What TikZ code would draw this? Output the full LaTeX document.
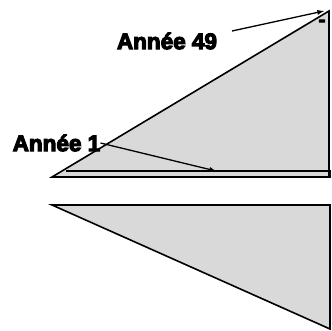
\documentclass[tikz,border=0pt]{standalone}
\usepackage{fontspec}
\newfontfamily\heavyfont[FakeBold=5]{Liberation Sans Bold}
\begin{document}
\begin{tikzpicture}[x=1pt, y=-1pt,
    wedge/.style={draw, line width=1.6pt, fill=gray!30, line join=miter},
    strip/.style={draw, line width=1.4pt},
    yearlabel/.style={font=\fontsize{22.5}{24}\selectfont\heavyfont, inner sep=0pt},
    pointer/.style={->, line width=1.3pt, >=latex}
]
\useasboundingbox (0,0) rectangle (332,331);

% Upper wedge
\coordinate (upleft) at (52,177);
\coordinate (uptop) at (329,11);
\coordinate (upright) at (329,177);
\filldraw[wedge] (upleft) -- (uptop) -- (upright) -- cycle;

% Thin strip along the base
\coordinate (stripleft) at (66,171);
\coordinate (stripright) at (330.5,171);
\coordinate (stripbase) at (330.5,177);
\draw[strip] (stripleft) -- (stripright) -- (stripbase) -- (upright);

% Lower wedge
\coordinate (lowleft) at (52,205);
\coordinate (lowtop) at (330,205);
\coordinate (lowbottom) at (330,329);
\filldraw[wedge] (lowleft) -- (lowtop) -- (lowbottom) -- cycle;

% Labels
\node[yearlabel] (an49) at (167,41) {Année 49};
\node[yearlabel] (an1) at (56.5,143) {Année 1};
\node[font=\fontsize{20}{20}\selectfont\heavyfont, inner sep=0pt] (tick) at (322,23) {-};

% Arrows
\coordinate (from49) at (232,31);
\coordinate (to49) at (324,11);
\coordinate (to1) at (216,171);
\draw[pointer] (from49) -- (to49);
\draw[pointer] (an1.east) -- (to1);

\end{tikzpicture}
\end{document}
